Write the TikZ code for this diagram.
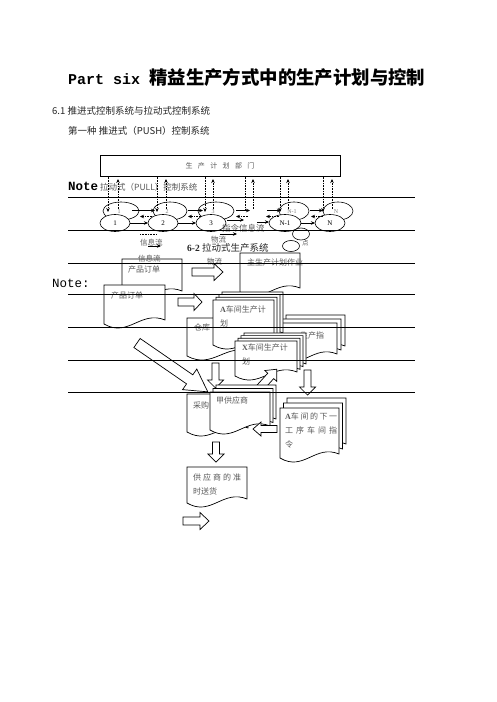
\documentclass[tikz,border=0pt]{standalone}
\usepackage{fontspec}
\setmainfont{Liberation Serif}
\newfontfamily\cjk{Noto Sans CJK SC}
\newfontfamily\monof{Liberation Mono}
\usetikzlibrary{arrows.meta}
\definecolor{tg}{gray}{0.35}
\definecolor{lg}{gray}{0.5}
\newcommand\docshape[4]{%
 \pgfmathsetmacro\dAx{#1}\pgfmathsetmacro\dAy{#2}\pgfmathsetmacro\dBx{#3}\pgfmathsetmacro\dBy{#4}%
 \pgfmathsetmacro\dCa{\dAx+0.6*(\dBx-\dAx)}\pgfmathsetmacro\dCb{\dAx+0.4*(\dBx-\dAx)}%
 \filldraw[doc] (\dAx,\dAy) -- (\dBx,\dAy) -- (\dBx,\dBy-4) .. controls (\dCa,\dBy-14) and (\dCb,\dBy+14) .. (\dAx,\dBy) -- cycle;}
\newcommand\stackdoc[7]{%
 \foreach \k in {#5,...,1}{\docshape{#1+\k*(#6)}{#2+\k*(#7)}{#3+\k*(#6)}{#4+\k*(#7)}}%
 \docshape{#1}{#2}{#3}{#4}}
\newcommand\hollowarrow[7]{%
 \filldraw[harr,shift={(#1,#2)},rotate=#3] (0,-#5) -- ({#4-#7},-#5) -- ({#4-#7},-#6) -- (#4,0) -- ({#4-#7},#6) -- ({#4-#7},#5) -- (0,#5) -- cycle;}
\begin{document}
\begin{tikzpicture}[x=1pt,y=-1pt,
  doc/.style={draw=black,fill=white,line width=0.7pt},
  harr/.style={draw=black,fill=white,line width=0.7pt},
  rulel/.style={line width=0.8pt},
  ell/.style={draw=black,fill=white,line width=0.6pt},
  lbl/.style={inner sep=0pt,anchor=west,text=tg,font=\cjk\fontsize{7.5}{7.5}\selectfont},
  dlbl/.style={inner sep=0pt,anchor=west,text=tg,font=\cjk\fontsize{8}{8}\selectfont},
  num/.style={inner sep=0pt,font=\fontsize{7}{7}\selectfont},
  tnum/.style={inner sep=0pt,text=lg,font=\fontsize{6}{6}\selectfont},
  dar/.style={densely dotted,line width=0.6pt,-{Stealth[length=4pt,width=3.5pt]}},
  sar/.style={line width=0.8pt,-{Stealth[length=4pt,width=3.5pt]}},
  ]
\useasboundingbox (0,0) rectangle (496,702);
\fill[white] (0,0) rectangle (496,702);

% headings
\node[inner sep=0pt,anchor=west] (title) at (68,77) {{\monof\bfseries\fontsize{15}{15}\selectfont Part six }{\cjk\bfseries\fontsize{18.4}{18.4}\selectfont 精益生产方式中的生产计划与控制}};
\node[inner sep=0pt,anchor=west,text=black!85,font=\cjk\fontsize{9.5}{9.5}\selectfont] (h61) at (52,111) {6.1 推进式控制系统与拉动式控制系统};
\node[inner sep=0pt,anchor=west,text=black!85,font=\cjk\fontsize{9.5}{9.5}\selectfont] (hpush) at (68,131) {第一种 推进式（PUSH）控制系统};

% planning department box
\node[draw,line width=0.8pt,minimum width=240pt,minimum height=21pt,inner sep=0pt] (pdept) at (220,165.5) {};
\node[inner sep=0pt,text=tg,font=\cjk\fontsize{7}{7}\selectfont] (pdeptt) at (220,165.5) {\makebox[69pt][s]{生\hfill 产\hfill 计\hfill 划\hfill 部\hfill 门}};

\node[inner sep=0pt,anchor=west,font=\monof\bfseries\fontsize{12.5}{12.5}\selectfont] (note1) at (68,186) {Note};
\node[inner sep=0pt,anchor=west,text=tg,font=\cjk\fontsize{8.5}{8.5}\selectfont] (pull) at (100,187) {拉动式（PULL）控制系统};

% top row ellipses
\draw[ell] (121,211) ellipse [x radius=18pt,y radius=9pt];
\draw[ell] (170,211) ellipse [x radius=17pt,y radius=9pt];
\draw[ell] (216,211) ellipse [x radius=18pt,y radius=9pt];
\draw[ell] (294,211) ellipse [x radius=15pt,y radius=9pt];
\draw[ell] (338,211) ellipse [x radius=15pt,y radius=9pt];
\node[tnum] (u1) at (119,212) {1};
\node[tnum] (u2) at (167,212) {2};
\node[tnum] (u3) at (213,212) {3};
\node[tnum] (u4) at (292,212) {N-1};
\node[tnum] (u5) at (336,212) {N};
% bottom row ellipses
\draw[ell] (115,223) ellipse [x radius=15pt,y radius=8.5pt];
\draw[ell] (163,223) ellipse [x radius=15pt,y radius=8.5pt];
\draw[ell] (211,223) ellipse [x radius=15pt,y radius=8.5pt];
\draw[ell] (285,223) ellipse [x radius=16pt,y radius=8.5pt];
\draw[ell] (330,223) ellipse [x radius=15pt,y radius=8.5pt];
\node[num] (b1) at (115,223.5) {1};
\node[num] (b2) at (163,223.5) {2};
\node[num] (b3) at (211,223.5) {3};
\node[num] (b4) at (285,223.5) {N-1};
\node[num] (b5) at (330,223.5) {N};
% small node ellipses
\draw[ell] (301,234) ellipse [x radius=8.5pt,y radius=6pt];
\draw[ell] (291,246) ellipse [x radius=8.5pt,y radius=5.5pt];
\node[lbl,font=\cjk\fontsize{6.5}{6.5}\selectfont] (jd) at (302,243) {点};

% vertical arrows to/from planning department
\foreach \xa/\xb in {108/118,157/166,205/213,280/288,323/332}{
  \draw[dar] (\xa,176.5) -- (\xa,212);
  \draw[dar] (\xb,209) -- (\xb,179);
}
\draw[densely dotted,line width=0.6pt] (245,176.5) -- (245,210);
\draw[dar] (253,209) -- (253,179);

% horizontal arrows top row
\foreach \xa/\xb in {132/155,188/203,236/250,267/281,310/323}{
  \draw[sar] (\xa,210.5) -- (\xb,210.5);
}
\foreach \xa/\xb in {152/140,201/188,248/236,279/266,323/311}{
  \draw[dar] (\xa,216.5) -- (\xb,216.5);
}
% bottom row arrows
\draw[sar] (130,223) -- (148,223);
\draw[sar] (178,223) -- (196,223);
\draw[sar] (227,220) -- (244,220);
\draw[sar] (257,222) -- (269,222);
\draw[sar] (301,223) -- (315,223);

% labels around lower row
\node[lbl,font=\cjk\fontsize{8.5}{8.5}\selectfont] (zlx) at (222,228) {指令信息流};
\draw[sar] (220,234) -- (237,234);
\draw[densely dotted,line width=0.6pt] (140,234) -- (157,234);
\node[lbl] (xxl1) at (140,243) {信息流};
\draw[sar] (148,246) -- (161,246);
\node[lbl] (wl1) at (211,240) {物流};
\node[inner sep=0pt,anchor=west,text=black!85,font=\fontsize{9.5}{9.5}\selectfont] (fig62) at (187,248) {\textbf{6-2} {\cjk 拉动式生产系统}};

% second block documents
\docshape{122}{259}{182}{295}
\node[lbl] (xxl2) at (138,259) {信息流};
\node[dlbl] (cpdd1) at (128,269) {产品订单};
\docshape{240}{253}{300}{292}
\node[dlbl] (zsc) at (247,262) {主生产计划作业};
\node[lbl] (wl2) at (207,262) {物流};
\hollowarrow{192}{272}{0}{31}{4}{8.5}{9}
\docshape{104}{285}{165}{324}
\node[dlbl] (cpdd2) at (111,295) {产品订单};
\node[inner sep=0pt,anchor=west,font=\monof\fontsize{12.5}{12.5}\selectfont] (note2) at (52,283) {Note:};
\hollowarrow{178}{302}{0}{24}{4}{8.5}{8}

% warehouse doc
\docshape{187}{318}{252}{356}
\node[dlbl] (ck) at (194,327) {仓库};
% production instruction stack
\stackdoc{278}{323}{337}{358}{2}{4}{-4}
\node[dlbl] (sczl) at (300,335) {生产指};
% A workshop plan stack
\stackdoc{213}{300}{274}{345}{3}{3}{-2.7}
\node[dlbl] (aplan1) at (220,309) {\textbf{\rmfamily A}车间生产计};
\node[dlbl] (aplan2) at (220,323) {划};
% X workshop plan stack
\stackdoc{235}{341}{297}{376}{3}{3}{-2.7}
\node[dlbl] (xplan1) at (242,347) {\textbf{\rmfamily X}车间生产计};
\node[dlbl] (xplan2) at (242,361) {划};

% arrows into procurement area
\hollowarrow{137}{343}{-34.6}{86}{5.5}{12.5}{22}
\hollowarrow{215.5}{363}{-90}{25}{3.5}{8}{8}
\hollowarrow{307.5}{370}{-90}{25}{3.5}{8}{8}
\hollowarrow{258}{390}{47.9}{28}{4}{8}{9}

\docshape{187}{394}{248}{432}
\node[dlbl] (cg) at (193,405) {采购};
\stackdoc{210}{392}{270}{430}{2}{3}{-3.5}
\node[dlbl] (jgys) at (216,400) {甲供应商};
\hollowarrow{277}{429}{180}{24}{3.5}{7}{8}

\stackdoc{280}{408}{339}{458}{2}{3.5}{-5}
\node[dlbl] (nx1) at (285,416) {\makebox[52pt][s]{\textbf{\rmfamily A}车\hfill 间\hfill 的\hfill 下\hfill 一}};
\node[dlbl] (nx2) at (285,430) {\makebox[52pt][s]{工\hfill 序\hfill 车\hfill 间\hfill 指}};
\node[dlbl] (nx3) at (285,444) {令};

\hollowarrow{216}{442}{-90}{20}{3.5}{8}{8}
\docshape{187}{467}{247}{503}
\node[dlbl] (gys1) at (193,477) {\makebox[48pt][s]{供\hfill 应\hfill 商\hfill 的\hfill 准}};
\node[dlbl] (gys2) at (193,491) {时送货};
\hollowarrow{183}{521}{0}{26}{4}{8.5}{9}

% horizontal rules on top
\foreach \yy in {197,230,263,294,327,360,392}{
  \draw[rulel] (68,\yy) -- (415,\yy);
}
\end{tikzpicture}
\end{document}
